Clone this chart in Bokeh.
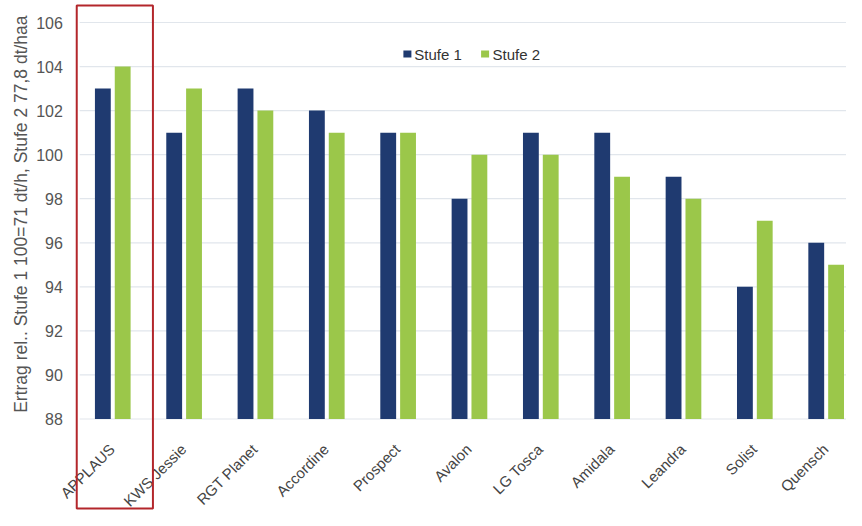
from bokeh.plotting import figure
from bokeh.models import Range1d, ColumnDataSource
from bokeh.core.properties import value
from bokeh.embed import file_html
from bokeh.resources import INLINE
import math

# ---- data ----
varieties = ["APPLAUS", "KWS Jessie", "RGT Planet", "Accordine", "Prospect",
             "Avalon", "LG Tosca", "Amidala", "Leandra", "Solist", "Quensch"]
stufe1 = [103, 101, 103, 102, 101, 98, 101, 101, 99, 94, 96]
stufe2 = [104, 103, 102, 101, 101, 100, 100, 99, 98, 97, 95]
y_ticks = [88, 90, 92, 94, 96, 98, 100, 102, 104, 106]
series_names = ["Stufe 1", "Stufe 2"]
y_title = "Ertrag rel.. Stufe 1 100=71 dt/h, Stufe 2 77,8 dt/haa"

# ---- style ----
NAVY = "#1f3a70"
GREEN = "#9bc74a"
GRID = "#e1e6ec"
TXT = "#555555"
FONT = value("Liberation Sans")
BASE = 88

W, H = 846, 510
X_LO, X_HI = -1.5737, 10.285
p = figure(width=W, height=H, output_backend="svg", toolbar_location=None,
           x_range=Range1d(X_LO, X_HI), y_range=Range1d(83.846, 106.999),
           min_border=0, outline_line_color=None)
p.xaxis.visible = False
p.yaxis.visible = False
p.grid.visible = False
p.background_fill_color = "white"
p.border_fill_color = "white"

n = len(varieties)
xs = list(range(n))

# grid lines
p.segment(x0=[-0.464] * len(y_ticks), x1=[X_HI] * len(y_ticks), y0=y_ticks, y1=y_ticks,
          line_color=GRID, line_width=1.2)

# bars
bw = 0.222
off = 0.139
src = ColumnDataSource(dict(x1=[x - off for x in xs], x2=[x + off for x in xs],
                            s1=stufe1, s2=stufe2))
p.vbar(x="x1", top="s1", bottom=BASE, width=bw, source=src, fill_color=NAVY, line_color=None)
p.vbar(x="x2", top="s2", bottom=BASE, width=bw, source=src, fill_color=GREEN, line_color=None)

# y tick labels
p.text(x=[-0.70] * len(y_ticks), y=y_ticks, text=[str(t) for t in y_ticks],
       text_align="right", text_baseline="middle", text_font=FONT,
       text_font_size="16px", text_color=TXT)

# y axis title
p.text(x=[-1.282], y=[97.3], text=[y_title], angle=math.pi / 2,
       text_align="center", text_baseline="middle", text_font=FONT,
       text_font_size="17.5px", text_color=TXT)

# x labels
p.text(x=[x - 0.01 for x in xs], y=[86.75] * n, text=varieties, angle=math.pi / 4,
       text_align="right", text_baseline="middle", text_font=FONT,
       text_font_size="15px", text_color="#444444")

# legend
p.rect(x=[4.130, 5.219], y=[104.57, 104.57], width=8, height=7,
       width_units="screen", height_units="screen", fill_color=[NAVY, GREEN], line_color=None)
p.text(x=[4.227, 5.323], y=[104.57, 104.57], text=series_names,
       text_align="left", text_baseline="middle", text_font=FONT,
       text_font_size="15px", text_color="#333333")

# red highlight box around APPLAUS
p.quad(left=[-0.505], right=[0.563], top=[106.77], bottom=[83.937],
       fill_color=None, line_color="#b3262b", line_width=2)

open("out.html", "w").write(file_html(p, INLINE))
